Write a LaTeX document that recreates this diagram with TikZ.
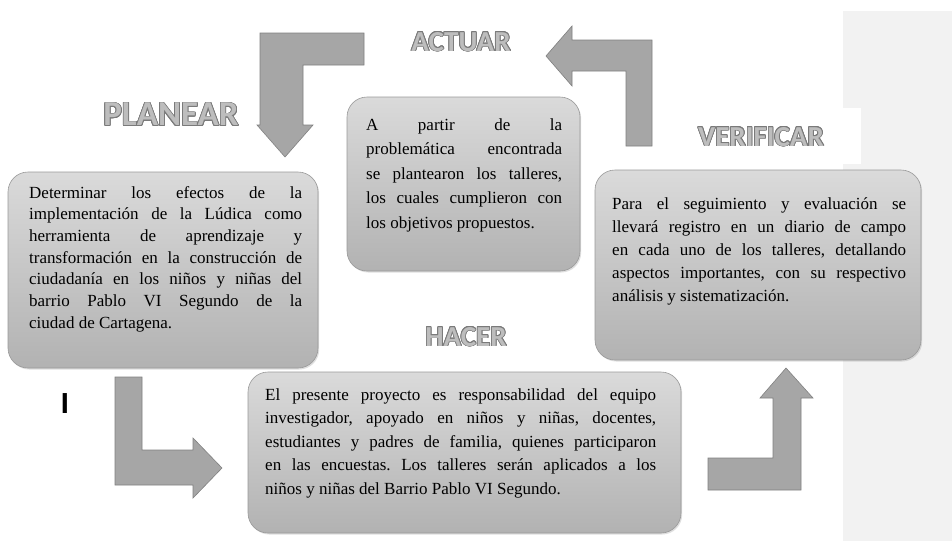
\documentclass[tikz,border=0pt]{standalone}
\usepackage{fontspec}
\setmainfont{Liberation Serif}
\newfontfamily\titlefont{Carlito}
\newfontfamily\arialfont{Liberation Sans}
\usepackage{contour}
\contourlength{0.8pt}
\usetikzlibrary{shadows}
\definecolor{panelgray}{HTML}{F2F2F2}
\definecolor{boxtop}{HTML}{DADADA}
\definecolor{boxbot}{HTML}{B2B2B2}
\definecolor{boxline}{HTML}{999999}
\definecolor{arrowfill}{HTML}{A6A6A6}
\definecolor{arrowline}{HTML}{808080}
\definecolor{titlefill}{HTML}{BDBDBD}
\definecolor{titleline}{HTML}{7A7A7A}
\tolerance=10000
\hbadness=10000
\frenchspacing
\begin{document}
\begin{tikzpicture}[x=1pt,y=-1pt,
  cardbox/.style={draw=boxline, line width=0.6pt, rounded corners=20pt,
    top color=boxtop, bottom color=boxbot, inner sep=0pt,
    drop shadow={shadow xshift=1.2pt, shadow yshift=-1.5pt, opacity=0.25}},
  cardtext/.style={anchor=base west, inner sep=0pt, align=justify},
  bigarrow/.style={fill=arrowfill, draw=arrowline, line width=0.6pt},
  titletext/.style={inner sep=0pt, anchor=center}]
\useasboundingbox (0,0) rectangle (952,541);
\fill[white] (0,0) rectangle (952,541);
\fill[panelgray] (843,11) rectangle (952,541);
\fill[white] (690,108) rectangle (861,164);

% boxes
\node[cardbox, minimum width=310pt, minimum height=196pt] (plan) at (163,270) {};
\node[cardbox, minimum width=233pt, minimum height=174pt] (act) at (463.5,184) {};
\node[cardbox, minimum width=326pt, minimum height=190pt] (ver) at (758,265) {};
\node[cardbox, minimum width=433pt, minimum height=161pt] (hac) at (464.5,452.5) {};

% texts
\node[cardtext, text width=273pt, font=\fontsize{17}{21.7}\selectfont] (plantxt) at (29,198)
{Determinar los efectos de la\linebreak
implementación de la Lúdica como\linebreak
herramienta de aprendizaje y\linebreak
transformación en la construcción de\linebreak
ciudadanía en los niños y niñas del\linebreak
barrio Pablo VI Segundo de la\linebreak
ciudad de Cartagena.};

\node[cardtext, text width=196pt, font=\fontsize{17}{24.5}\selectfont] (acttxt) at (366,130)
{A partir de la\linebreak
problemática encontrada\linebreak
se plantearon los talleres,\linebreak
los cuales cumplieron con\linebreak
los objetivos propuestos.};

\node[cardtext, text width=294pt, font=\fontsize{17}{23}\selectfont] (vertxt) at (612,209)
{Para el seguimiento y evaluación se\linebreak
llevará registro en un diario de campo\linebreak
en cada uno de los talleres, detallando\linebreak
aspectos importantes, con su respectivo\linebreak
análisis y sistematización.};

\node[cardtext, text width=391pt, font=\fontsize{17}{23.5}\selectfont] (hactxt) at (265,400)
{El presente proyecto es responsabilidad del equipo\linebreak
investigador, apoyado en niños y niñas, docentes,\linebreak
estudiantes y padres de familia, quienes participaron\linebreak
en las encuestas. Los talleres serán aplicados a los\linebreak
niños y niñas del Barrio Pablo VI Segundo.};

% titles
\node[titletext, font=\titlefont\bfseries\fontsize{35}{40}\selectfont] (tplan) at (171,115)
{\contour{titleline}{\textcolor{titlefill}{PLANEAR}}};
\node[titletext, font=\titlefont\bfseries\fontsize{29}{34}\selectfont] (tact) at (461,42)
{\contour{titleline}{\textcolor{titlefill}{ACTUAR}}};
\node[titletext, font=\titlefont\bfseries\fontsize{29}{34}\selectfont] (tver) at (761,137)
{\contour{titleline}{\textcolor{titlefill}{VERIFICAR}}};
\node[titletext, font=\titlefont\bfseries\fontsize{29}{34}\selectfont] (thac) at (466,337)
{\contour{titleline}{\textcolor{titlefill}{HACER}}};

% stray mark
\node[anchor=base, inner sep=0pt, font=\arialfont\bfseries\fontsize{29}{34}\selectfont] (mark) at (65,413) {I};

% bent arrows
\draw[bigarrow] (364,33) -- (260,33) -- (260,125) -- (257,125) -- (285,157)
  -- (313,125) -- (303,125) -- (303,65) -- (364,65) -- cycle;
\draw[bigarrow] (652,146) -- (652,40) -- (572,40) -- (572,26) -- (546,56)
  -- (572,86) -- (572,71) -- (626,71) -- (626,146) -- cycle;
\draw[bigarrow] (115,377) -- (142,377) -- (142,450) -- (193,450) -- (193,438)
  -- (222,468) -- (193,498) -- (193,485) -- (115,485) -- cycle;
\draw[bigarrow] (708,490) -- (708,458) -- (773,458) -- (773,398) -- (760,398)
  -- (786,368) -- (813,398) -- (801,398) -- (801,490) -- cycle;
\end{tikzpicture}
\end{document}
